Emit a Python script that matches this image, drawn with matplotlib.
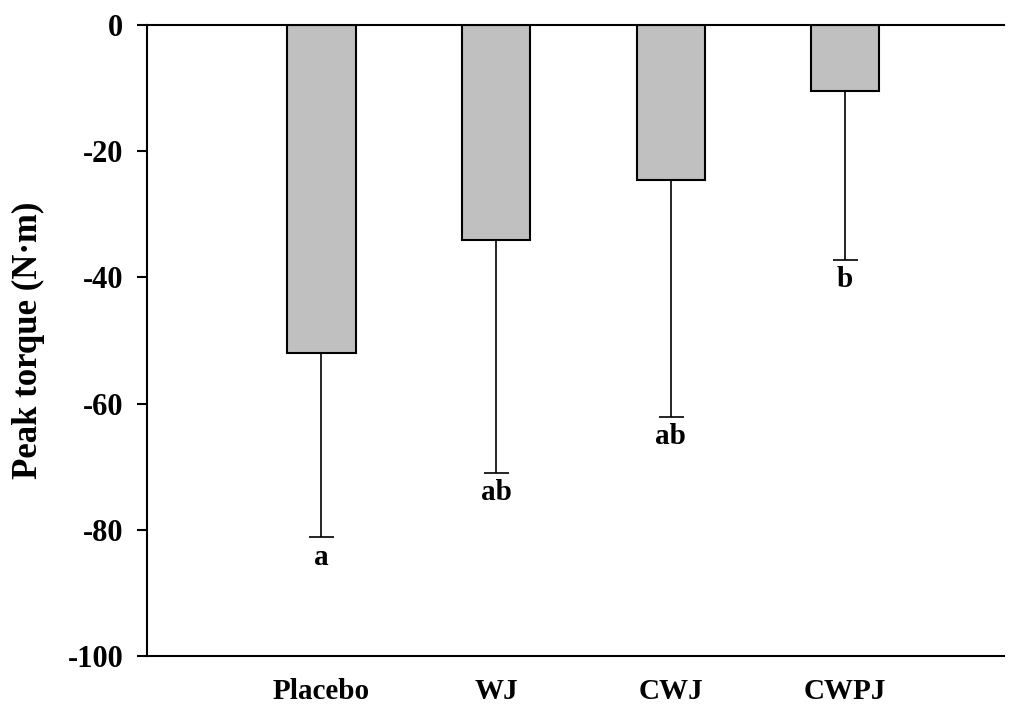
import matplotlib
matplotlib.use("Agg")
import matplotlib.pyplot as plt
import numpy as np

groups = ["Placebo", "WJ", "CWJ", "CWPJ"]
means = [-52.0, -34.0, -24.6, -10.5]
errors = [29.2, 37.0, 37.5, 26.7]   # lower error only
letters = ["a", "ab", "ab", "b"]

BAR_FILL = "#c0c0c0"
plt.rcParams["font.family"] = ["Liberation Serif", "DejaVu Serif"]
plt.rcParams["font.weight"] = "bold"

fig = plt.figure(figsize=(10.1, 7.04), dpi=100)
ax = fig.add_axes([0.1455, 0.0682, 0.8485, 0.8963])

x = np.arange(1, len(groups) + 1)
ax.bar(x, means, width=0.39, color=BAR_FILL, edgecolor="black", linewidth=1.5, zorder=2)
ax.errorbar(x, means, yerr=[errors, [0] * len(errors)], fmt="none", ecolor="black",
            elinewidth=1.2, capsize=9, capthick=1.2, zorder=1)
for xi, m, e, lab in zip(x, means, errors, letters):
    ax.text(xi, m - e - 1.0, lab, ha="center", va="top", fontsize=21, fontweight="bold")

ax.set_xlim(0, 4.91)
ax.set_ylim(-100, 0)
ax.set_yticks(np.arange(-100, 1, 20))
ax.set_yticklabels([str(v) for v in range(-100, 1, 20)], fontsize=22, fontweight="bold")
ax.set_xticks(x)
ax.set_xticklabels(groups, fontsize=21, fontweight="bold")
ax.tick_params(axis="x", length=0, pad=16)
ax.tick_params(axis="y", length=7, width=1.5, direction="out", pad=10)
ax.spines["right"].set_visible(False)
for s in ["left", "top", "bottom"]:
    ax.spines[s].set_linewidth(1.5)
ax.set_ylabel("Peak torque (N·m)", fontsize=25, fontweight="bold", labelpad=16)

fig.savefig("out.png", dpi=100)
